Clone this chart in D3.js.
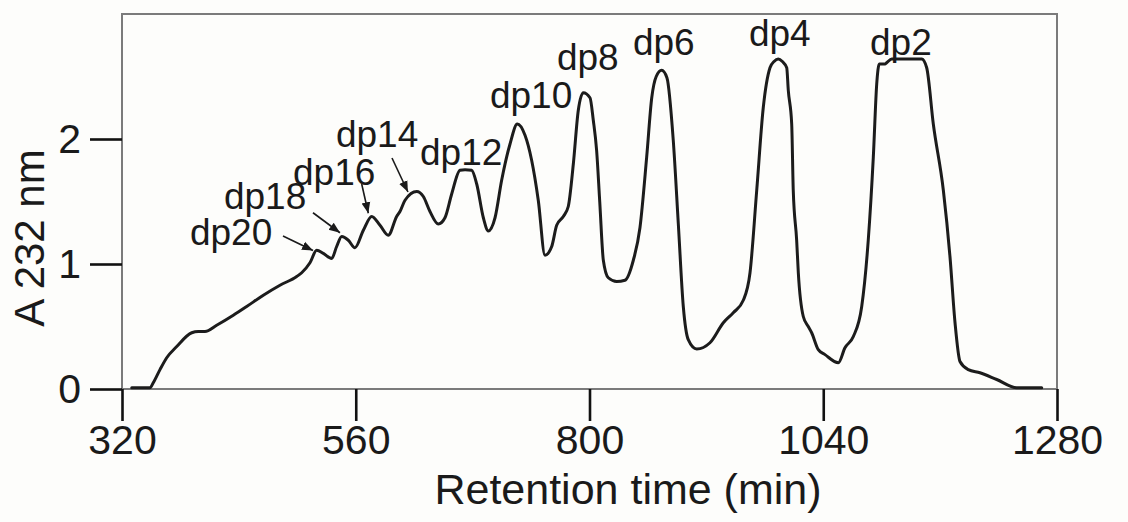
<!DOCTYPE html>
<html><head><meta charset="utf-8">
<script src="https://cdn.jsdelivr.net/npm/d3@7"></script>
<style>
html,body{margin:0;padding:0;background:#fdfdfb;}
svg{display:block;}
text{font-family:"Liberation Sans",Arial,sans-serif;fill:#1a1a1a;}
</style>
</head><body>
<svg id="chart" width="1128" height="522"></svg>
<script>
// ---- data ----
const times = [330,348.7,352.1,359,365.9,376.2,391.6,398.3,405.2,417.2,434.3,448,465.1,482.2,499.4,504.5,513,519.9,526.7,535.3,540.4,545.6,552.4,559.2,567.8,576.4,584.9,593.4,602,605.4,610.6,622.6,629.4,636.2,644.8,651.6,658.5,667,672.2,679,684.2,691,696.1,703,709.8,718.4,725.9,733.8,740.6,747.4,754.3,761.2,766.3,773.1,778.2,783.4,788.5,793.6,800.5,803.9,807.3,810.5,814.2,819.3,827.9,836.4,845,851.8,858.7,863.9,868.5,874.1,879.5,886,891.2,896.3,901.4,910.1,923.7,937.4,947.6,957.9,964.8,971.7,978.4,985.3,989.5,993.8,998,1002.5,1004.1,1007.6,1009.2,1012.7,1014.4,1019.5,1024.6,1028.1,1034.9,1041.8,1055.5,1062.3,1070.9,1079.5,1086.2,1091.4,1094.9,1097.5,1103.4,1105.1,1110.3,1141.1,1146.2,1153,1163.3,1170.1,1175.3,1180.4,1188.9,1200.9,1218.1,1238.6,1264.3];
const absorbance = [0.01,0.01,0.05,0.155,0.25,0.34,0.45,0.46,0.46,0.51,0.59,0.66,0.75,0.83,0.90,0.93,1.01,1.11,1.085,1.045,1.14,1.22,1.19,1.13,1.27,1.38,1.31,1.23,1.38,1.42,1.51,1.58,1.54,1.42,1.32,1.37,1.56,1.75,1.755,1.75,1.64,1.37,1.265,1.37,1.67,1.96,2.12,2.03,1.83,1.51,1.07,1.14,1.31,1.38,1.46,1.80,2.23,2.37,2.33,2.15,1.91,1.50,1.03,0.89,0.86,0.87,1.03,1.29,1.855,2.33,2.50,2.55,2.49,1.99,1.32,0.66,0.395,0.32,0.37,0.53,0.61,0.71,0.93,1.59,2.25,2.57,2.62,2.64,2.62,2.57,2.39,2.12,1.59,1.19,0.93,0.58,0.50,0.45,0.315,0.275,0.21,0.33,0.42,0.66,1.19,1.855,2.44,2.60,2.60,2.61,2.64,2.64,2.57,2.12,1.59,1.06,0.53,0.22,0.155,0.13,0.076,0.01,0.01];

const xTicks = [320,560,800,1040,1280];
const yTicks = [0,1,2];
const xTitle = "Retention time (min)";
const yTitle = "A 232 nm";

// peak labels (anchor = left/baseline, in data units)
const peakNames = ["dp20","dp18","dp16","dp14","dp12","dp10","dp8","dp6","dp4","dp2"];
const peakLabelT = [389.8,424.7,495.6,539.7,626.0,697.8,766.6,844.6,963.7,1088.0];
const peakLabelA = [1.152,1.440,1.632,1.936,1.792,2.248,2.552,2.672,2.744,2.672];

// arrows for the small peaks (data units)
const arrowFromT = [485.3,516.1,566.1,597.2];
const arrowFromA = [1.224,1.410,1.640,1.848];
const arrowToT   = [516.1,543.8,572.9,613.6];
const arrowToA   = [1.108,1.250,1.406,1.576];

// ---- drawing ----
const svg = d3.select("#chart");
const x = d3.scaleLinear().domain([320,1280]).range([122,1057]);
const y = d3.scaleLinear().domain([0,3]).range([389,14]);

svg.append("rect").attr("width",1128).attr("height",522).attr("fill","#fdfdfb");

// frame
svg.append("rect")
  .attr("x", x(320)).attr("y", y(3))
  .attr("width", x(1280)-x(320)).attr("height", y(0)-y(3))
  .attr("fill","none").attr("stroke","#7b7b7b").attr("stroke-width",2);

// x axis
const gx = svg.append("g").attr("transform",`translate(0,${y(0)})`)
  .call(d3.axisBottom(x).tickValues(xTicks).tickFormat(d3.format("d")).tickSize(32).tickSizeOuter(0).tickPadding(4));
gx.select(".domain").remove();
gx.selectAll(".tick line").attr("stroke","#111").attr("stroke-width",2.6);
gx.selectAll(".tick text").attr("font-size",41).attr("fill","#1a1a1a").style("font-family",'"Liberation Sans",Arial,sans-serif');

// y axis
const gy = svg.append("g").attr("transform",`translate(${x(320)},0)`)
  .call(d3.axisLeft(y).tickValues(yTicks).tickFormat(d3.format("d")).tickSize(32).tickSizeOuter(0).tickPadding(9));
gy.select(".domain").remove();
gy.selectAll(".tick line").attr("stroke","#111").attr("stroke-width",2.6);
gy.selectAll(".tick text").attr("font-size",41).attr("fill","#1a1a1a").style("font-family",'"Liberation Sans",Arial,sans-serif');

// curve
const pts = times.map((t,i)=>[t,absorbance[i]]);
svg.append("path").datum(pts)
  .attr("fill","none").attr("stroke","#1c1c1c").attr("stroke-width",3)
  .attr("stroke-linejoin","round").attr("stroke-linecap","round")
  .attr("d", d3.line().x(d=>x(d[0])).y(d=>y(d[1])).curve(d3.curveMonotoneX));

// arrowhead marker
svg.append("defs").append("marker")
  .attr("id","ah").attr("viewBox","0 0 10 10").attr("refX",10).attr("refY",5)
  .attr("markerWidth",11).attr("markerHeight",11).attr("markerUnits","userSpaceOnUse")
  .attr("orient","auto")
  .append("path").attr("d","M0,1 L10,5 L0,9 Z").attr("fill","#1a1a1a");

svg.append("g").selectAll("line").data(arrowFromT).join("line")
  .attr("x1",(d,i)=>x(d)).attr("y1",(d,i)=>y(arrowFromA[i]))
  .attr("x2",(d,i)=>x(arrowToT[i])).attr("y2",(d,i)=>y(arrowToA[i]))
  .attr("stroke","#1a1a1a").attr("stroke-width",1.6)
  .attr("marker-end","url(#ah)");

// peak labels
svg.append("g").selectAll("text").data(peakNames).join("text")
  .attr("x",(d,i)=>x(peakLabelT[i])).attr("y",(d,i)=>y(peakLabelA[i]))
  .attr("font-size",37).text(d=>d);

// titles
svg.append("text").attr("x",628).attr("y",504).attr("text-anchor","middle")
  .attr("font-size",43).text(xTitle);
svg.append("text").attr("transform","translate(44,238) rotate(-90)").attr("text-anchor","middle")
  .attr("font-size",42).text(yTitle);
</script>
</body></html>
